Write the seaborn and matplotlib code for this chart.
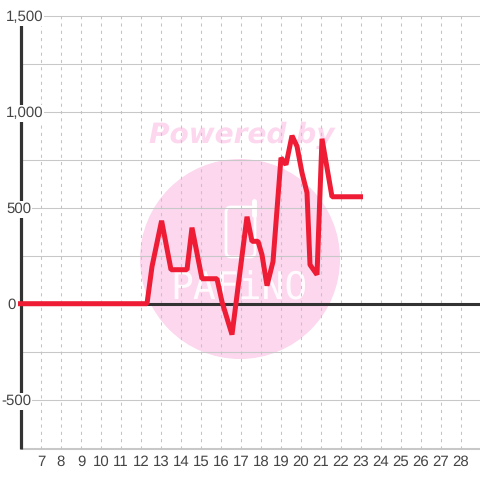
import matplotlib
matplotlib.use("Agg")
import matplotlib.pyplot as plt
import seaborn as sns
import pandas as pd
from matplotlib.patches import Circle, FancyBboxPatch

x_vals = [5.85, 12.3, 12.55, 13.03, 13.5, 14.3, 14.55, 15.05, 15.8, 16.05, 16.55, 17.3, 17.55,
          17.85, 18.05, 18.3, 18.6, 19.0, 19.25, 19.55, 19.8, 20.05, 20.3, 20.45, 20.8, 21.05,
          21.55, 23.1]
y_vals = [0, 0, 193, 432, 177, 177, 396, 130, 130, 10, -161, 453, 325,
          325, 255, 94, 219, 760, 724, 875, 820, 682, 578, 203, 151, 859,
          557, 557]
x_ticks = list(range(7, 29))
y_major = [-500, 0, 500, 1000, 1500]
y_labels = ["-500", "0", "500", "1,000", "1,500"]
y_label_px = [31, 16, 31, 43, 43]
y_grid = [-750, -500, -250, 250, 500, 750, 1000, 1250, 1500]

sns.set_theme(style="white")
plt.rcParams["font.family"] = ["Liberation Sans", "DejaVu Sans"]
plt.rcParams["text.hinting"] = "no_hinting"
plt.rcParams["text.hinting_factor"] = 1
fig = plt.figure(figsize=(4.8, 4.8), dpi=100, facecolor="white")
ax = fig.add_axes([0, 0, 1, 1])
ax.set_xlim(7.0 - 41 / 20, 7.0 + (480 - 41) / 20)
ax.set_ylim((303.7 - 480) / 0.192, 303.7 / 0.192)
ax.axis("off")
px = ax.transData.inverted()
def P(xp, yp):
    return px.transform((xp, 480 - yp))

# watermark, in pixel space
ov = fig.add_axes([0, 0, 1, 1], zorder=0)
ov.set_xlim(0, 480); ov.set_ylim(480, 0); ov.axis("off"); ov.patch.set_alpha(0)
ov.add_patch(Circle((240, 259), 100, fc="#fcd7ee", ec="none"))
ov.text(242, 135, "Powered by", color="#fcd7ee", fontsize=20.5, fontweight="bold", style="italic",
        family="DejaVu Sans", ha="center", va="center")
ov.add_patch(FancyBboxPatch((226, 207), 29, 50, boxstyle="round,pad=0,rounding_size=5",
                            fc="none", ec="white", lw=2))
ov.plot([254, 254], [201, 215], color="white", lw=3.5, solid_capstyle="round")
ov.text(239, 289, "PAFiNO", color="white", fontsize=27, family="DejaVu Sans Mono", ha="center",
        va="center", alpha=0.9)
ax.set_zorder(1); ax.patch.set_alpha(0)

x0 = P(20.5, 0)[0]
xr = ax.get_xlim()[1]
for y in y_grid:
    ax.plot([x0, xr], [y, y], color="#c8c8c8", lw=0.75, zorder=1)
ybot, ytop = P(0, 448.5)[1], 1500
for x in x_ticks:
    ax.plot([x, x], [ybot, ytop], color="#c4c4c4", lw=0.75, ls=(0, (3, 4)), zorder=1)
ax.plot([x0, xr], [ybot, ybot], color="#c8c8c8", lw=0.75, zorder=1)
ax.plot([x0, x0], [ybot, 1500], color="#333333", lw=2.3, solid_capstyle="butt", zorder=2)
ax.plot([x0, xr], [0, 0], color="#333333", lw=2.2, zorder=2)

df = pd.DataFrame({"x": x_vals, "y": y_vals})
sns.lineplot(data=df, x="x", y="y", ax=ax, color="#ee1c34", lw=3.6, estimator=None, sort=False,
             zorder=4, legend=False, solid_joinstyle="bevel", solid_capstyle="butt")
ax.set_xlabel(""); ax.set_ylabel("")
ax.axis("off")

for x in x_ticks:
    ax.text(x, P(0, 466)[1], str(x), color="#444444", fontsize=11, ha="center", va="baseline", zorder=6)
for y, lab, xp in zip(y_major, y_labels, y_label_px):
    ax.text(P(xp, 0)[0], y - 5.5 / 0.192, lab, color="#444444", fontsize=11, ha="right", va="baseline", zorder=5,
            bbox=dict(fc="white", ec="none", pad=1))
fig.savefig("out.png", dpi=100)
